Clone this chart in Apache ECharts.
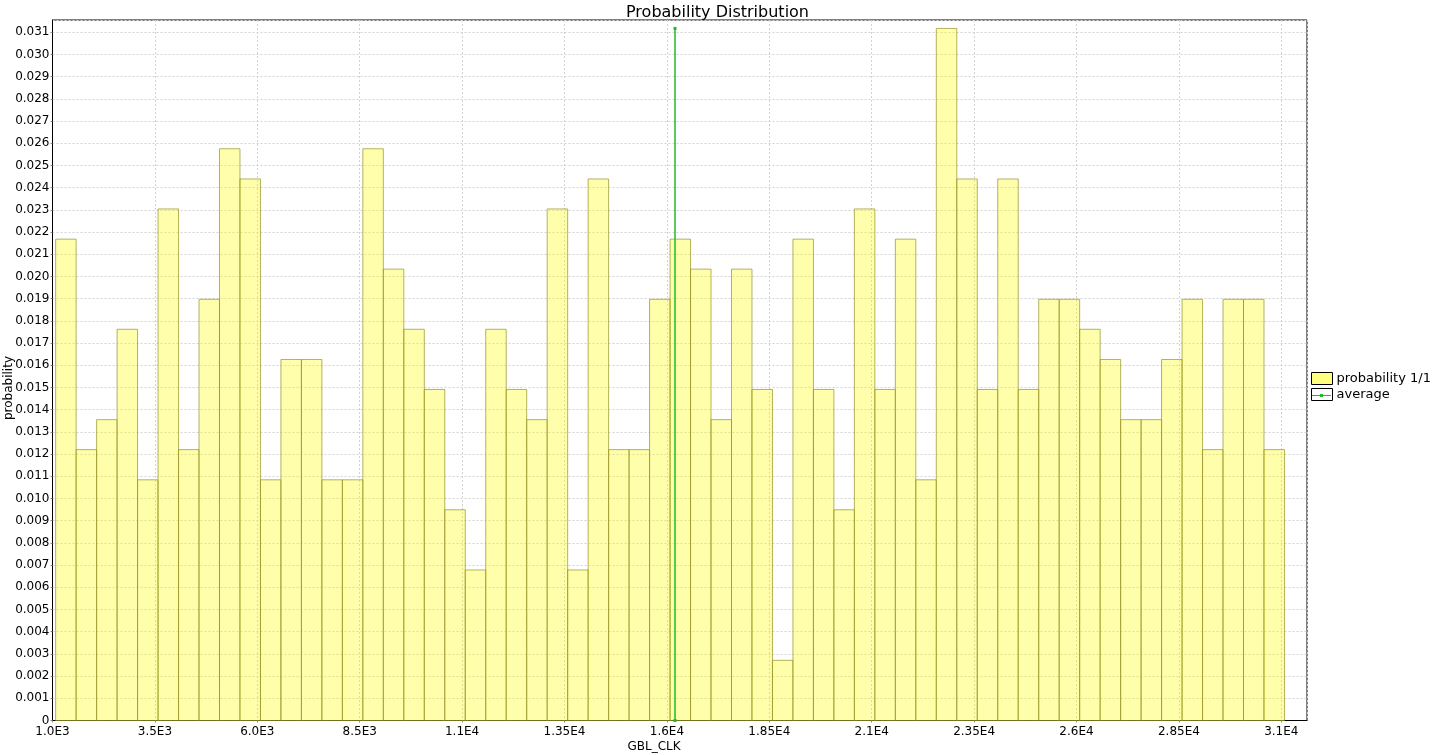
<!DOCTYPE html>
<html>
<head>
<meta charset="utf-8">
<script src="https://cdn.jsdelivr.net/npm/echarts@6/dist/echarts.min.js"></script>
<style>
  html, body { margin: 0; padding: 0; background: #fff; }
  #chart { width: 1435px; height: 755px; }
</style>
</head>
<body>
<div id="chart"></div>
<script>
// Histogram bins: lower edges and upper edges of each bin (GBL_CLK)
const binLower = [
  1077, 1577, 2077, 2577, 3077, 3577, 4077, 4577, 5077, 5577,
  6077, 6577, 7077, 7577, 8077, 8577, 9077, 9577, 10077, 10577,
  11077, 11577, 12077, 12577, 13077, 13577, 14077, 14577, 15077, 15577,
  16077, 16577, 17077, 17577, 18077, 18577, 19077, 19577, 20077, 20577,
  21077, 21577, 22077, 22577, 23077, 23577, 24077, 24577, 25077, 25577,
  26077, 26577, 27077, 27577, 28077, 28577, 29077, 29577, 30077, 30577
];
const binUpper = [
  1577, 2077, 2577, 3077, 3577, 4077, 4577, 5077, 5577, 6077,
  6577, 7077, 7577, 8077, 8577, 9077, 9577, 10077, 10577, 11077,
  11577, 12077, 12577, 13077, 13577, 14077, 14577, 15077, 15577, 16077,
  16577, 17077, 17577, 18077, 18577, 19077, 19577, 20077, 20577, 21077,
  21577, 22077, 22577, 23077, 23577, 24077, 24577, 25077, 25577, 26077,
  26577, 27077, 27577, 28077, 28577, 29077, 29577, 30077, 30577, 31077
];
// probability of each bin
const probability = [
  0.02168, 0.01220, 0.01355, 0.01762, 0.01084, 0.02304, 0.01220, 0.01897, 0.02575, 0.02439,
  0.01084, 0.01626, 0.01626, 0.01084, 0.01084, 0.02575, 0.02033, 0.01762, 0.01491, 0.00949,
  0.00678, 0.01762, 0.01491, 0.01355, 0.02304, 0.00678, 0.02439, 0.01220, 0.01220, 0.01897,
  0.02168, 0.02033, 0.01355, 0.02033, 0.01491, 0.00271, 0.02168, 0.01491, 0.00949, 0.02304,
  0.01491, 0.02168, 0.01084, 0.03117, 0.02439, 0.01491, 0.02439, 0.01491, 0.01897, 0.01897,
  0.01762, 0.01626, 0.01355, 0.01355, 0.01626, 0.01897, 0.01220, 0.01897, 0.01897, 0.01220
];
// average marker line
const averageX = [16198, 16198];
const averageY = [0, 0.03117];
// x tick values and labels
const xTickValues = [1000, 3500, 6000, 8500, 11000, 13500, 16000, 18500, 21000, 23500, 26000, 28500, 31000];
const xTickLabels = ['1.0E3', '3.5E3', '6.0E3', '8.5E3', '1.1E4', '1.35E4', '1.6E4', '1.85E4', '2.1E4', '2.35E4', '2.6E4', '2.85E4', '3.1E4'];

const FONT = 'DejaVu Sans';
const GREEN = '#22bb22';
const histData = probability.map((p, i) => [binLower[i], binUpper[i], p]);
const avgData = averageX.map((x, i) => [x, averageY[i]]);

const chart = echarts.init(document.getElementById('chart'), null, { renderer: 'canvas' });
const gridLine = { show: true, lineStyle: { color: '#d2d2d2', width: 1, type: [2, 2] } };

chart.setOption({
  animation: false,
  backgroundColor: '#ffffff',
  textStyle: { fontFamily: FONT },
  title: {
    text: 'Probability Distribution',
    left: 'center',
    top: 0,
    textStyle: { fontFamily: FONT, fontSize: 16, fontWeight: 'normal', color: '#000' }
  },
  legend: {
    orient: 'vertical',
    left: 1311,
    top: 372,
    padding: 0,
    itemWidth: 21,
    itemHeight: 12,
    itemGap: 3,
    selectedMode: false,
    textStyle: { fontFamily: FONT, fontSize: 13, color: '#000', padding: [0, 0, 0, -1] },
    data: [
      { name: 'probability 1/1', icon: 'rect', itemStyle: { color: '#ffff80', borderColor: '#000', borderWidth: 1 } },
      { name: 'average', icon: 'path://M0,0 L21,0 L21,12 L0,12 Z', itemStyle: { color: '#ffffff', borderColor: '#000', borderWidth: 1 } }
    ]
  },
  grid: { left: 52.5, right: 128, top: 20, bottom: 34.5, show: true, borderColor: '#000', borderWidth: 1, backgroundColor: 'transparent' },
  xAxis: {
    type: 'value',
    min: 1000,
    max: 31627,
    interval: 2500,
    axisLine: { show: true, onZero: false, lineStyle: { color: '#000' } },
    axisTick: { show: true, length: 2, lineStyle: { color: '#888' } },
    axisLabel: {
      margin: 5,
      fontFamily: FONT,
      fontSize: 12,
      color: '#000',
      showMaxLabel: false,
      formatter: v => {
        const idx = xTickValues.indexOf(v);
        return idx >= 0 ? xTickLabels[idx] : '';
      }
    },
    splitLine: gridLine
  },
  yAxis: {
    type: 'value',
    min: 0,
    max: 0.03155,
    interval: 0.001,
    axisLine: { show: true, lineStyle: { color: '#000' } },
    axisTick: { show: true, length: 2, lineStyle: { color: '#888' } },
    axisLabel: {
      margin: 3,
      fontFamily: FONT,
      fontSize: 12,
      color: '#000',
      showMaxLabel: false,
      formatter: v => (v === 0 ? '0' : v.toFixed(3))
    },
    splitLine: gridLine
  },
  graphic: [
    {
      type: 'text', x: 654, y: 741,
      style: { text: 'GBL_CLK', fontFamily: FONT, fontSize: 12, fill: '#000', textAlign: 'center', textVerticalAlign: 'top' }
    },
    {
      type: 'text', x: 3, y: 388, rotation: Math.PI / 2,
      style: { text: 'probability', fontFamily: FONT, fontSize: 12, fill: '#000', textAlign: 'center', textVerticalAlign: 'top' }
    },
    {
      type: 'line', z: 100,
      shape: { x1: 1312, y1: 395.5, x2: 1331, y2: 395.5 },
      style: { stroke: GREEN, lineWidth: 1 }
    },
    {
      type: 'rect', z: 100,
      shape: { x: 1320, y: 394, width: 3, height: 3 },
      style: { fill: GREEN }
    }
  ],
  series: [
    {
      name: 'probability 1/1',
      type: 'custom',
      data: histData,
      encode: { x: [0, 1], y: 2 },
      itemStyle: { color: '#ffff80' },
      renderItem: (params, api) => {
        const x0 = api.value(0), x1 = api.value(1), y = api.value(2);
        const p0 = api.coord([x0, y]);
        const p1 = api.coord([x1, 0]);
        return {
          type: 'rect',
          shape: { x: p0[0], y: p0[1], width: p1[0] - p0[0], height: p1[1] - p0[1] },
          style: { fill: 'rgba(255,255,0,0.33)', stroke: 'rgba(150,145,40,0.7)', lineWidth: 1 }
        };
      }
    },
    {
      name: 'average',
      type: 'line',
      data: avgData,
      symbol: 'rect',
      symbolSize: 3,
      itemStyle: { color: GREEN },
      lineStyle: { color: GREEN, width: 1.5 },
      z: 5
    }
  ]
});
</script>
</body>
</html>
